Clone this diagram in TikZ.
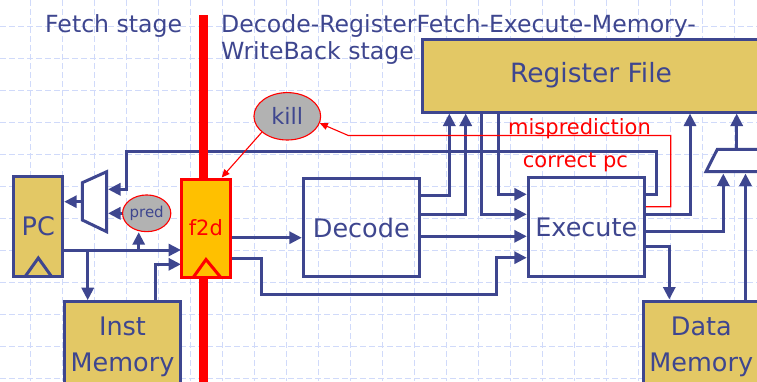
\documentclass[tikz,border=0pt]{standalone}
\usepackage{fontspec}
\setmainfont{DejaVu Sans}
\usetikzlibrary{arrows.meta,shapes.geometric,calc}
\definecolor{navy}{RGB}{62,70,143}
\definecolor{gold}{RGB}{227,200,101}
\definecolor{amber}{RGB}{255,192,0}
\definecolor{gridc}{RGB}{208,218,250}
\definecolor{grayfill}{RGB}{178,178,178}
\newcommand\fsBox{\fontsize{25.5}{30}\selectfont}
\newcommand\fsRF{\fontsize{26.5}{31}\selectfont}
\newcommand\fsTtl{\fontsize{23.6}{28}\selectfont}
\newcommand\fsRed{\fontsize{21}{25}\selectfont}
\newcommand\fsKill{\fontsize{22.5}{26}\selectfont}
\newcommand\fsPred{\fontsize{15}{18}\selectfont}
\begin{document}
\begin{tikzpicture}[x=1pt,y=-1pt,
  gridline/.style={gridc, line width=1pt, dash pattern=on 6pt off 3pt},
  box/.style={draw=navy, line width=3pt, rectangle, inner sep=0pt, text=navy, font=\fsBox},
  lbl/.style={text=navy, font=\fsBox, inner sep=0pt},
  ttl/.style={text=navy, font=\fsTtl, inner sep=0pt},
  rlbl/.style={text=red, font=\fsRed, inner sep=0pt},
  wire/.style={navy, line width=3pt},
  arr/.style={wire, -{Triangle[length=12.5pt,width=12pt]}},
  redarr/.style={red, line width=1.1pt, -{Triangle[length=8pt,width=7pt]}},
  bubble/.style={ellipse, draw=red, line width=1.1pt, fill=grayfill, text=navy, inner sep=0pt}
]
\useasboundingbox (0,0) rectangle (757,381);
\clip (0,0) rectangle (757,381);
\fill[white] (0,0) rectangle (757,381);
% background grid
\foreach \gx in {0,...,22} \draw[gridline] ({30+32*\gx},0) -- ({30+32*\gx},381);
\foreach \gy in {0,...,11} \draw[gridline] (0,{26.7+32*\gy}) -- (757,{26.7+32*\gy});

% titles
\node[ttl, anchor=base west] (t1) at (45,32.3) {Fetch stage};
\node[ttl, anchor=base west] (t2) at (221,32.3) {Decode-RegisterFetch-Execute-Memory-};
\node[ttl, anchor=base west] (t3) at (221,59) {WriteBack stage};

% boxes
\node[box, fill=gold, minimum width=338pt, minimum height=73pt, font=\fsRF] (rf) at (591,75.5) {Register File};
\node[box, fill=gold, minimum width=48.7pt, minimum height=100pt] (pc) at (38.3,226.7) {PC};
\node[box, fill=gold, minimum width=116.4pt, minimum height=119pt] (im) at (122.5,361.2) {};
\node[lbl, anchor=base] (imt1) at (122.5,335) {Inst};
\node[lbl, anchor=base] (imt2) at (122.5,371) {Memory};
\node[box, minimum width=116pt, minimum height=98.4pt] (dec) at (361.3,227.5) {Decode};
\node[box, minimum width=116pt, minimum height=99pt] (ex) at (586.3,227.2) {Execute};
\node[box, fill=gold, minimum width=116.7pt, minimum height=119pt] (dm) at (701.6,360.5) {};
\node[lbl, anchor=base] (dmt1) at (701.3,335) {Data};
\node[lbl, anchor=base] (dmt2) at (701.3,371) {Memory};

% muxes
\coordinate (mlA) at (82.3,182.7);
\coordinate (mlB) at (106.7,171.7);
\coordinate (mlC) at (106.7,231.7);
\coordinate (mlD) at (82.3,220);
\coordinate (mlo) at (82.3,201.7);
\coordinate (mRight) at (108,0);
\draw[wire, fill=white] (mlA) -- (mlB) -- (mlC) -- (mlD) -- cycle;
\coordinate (mrA) at (717.3,149.3);
\coordinate (mrB) at (766,149.3);
\coordinate (mrC) at (778,171.7);
\coordinate (mrD) at (706,171.7);
\draw[wire, fill=white] (mrA) -- (mrB) -- (mrC) -- (mrD) -- cycle;

% fetch-side wires
\coordinate (j1) at (87.7,250);
\coordinate (j2) at (138.7,250);
\coordinate (j3) at (155.7,264.3);
\draw[arr] (pc.east |- 0,250) -- (230,250 -| 181,0);
\draw[arr] (j1) -- (j1 |- im.north);
\draw[arr] (im.north -| j3) -- (j3) -- (181,0 |- j3);
\draw[arr] (mlo) -- (pc.east |- mlo);

% correct pc loop
\draw[arr] (ex.east |- 0,194.3) -| (656,151.7) -| (126,189.3) -- (mRight |- 0,189.3);

% decode stage wires
\draw[arr] (231,237.7) -- (dec.west |- 0,237.7);
\draw[arr] (231,258.3) -| (261.7,294.3) -| (496,257.7) -- (ex.west |- 0,257.7);
\draw[arr] (dec.east |- 0,195) -| (rf.south -| 449.3,0);
\draw[arr] (dec.east |- 0,214.3) -| (rf.south -| 465.7,0);
\draw[arr] (dec.east |- 0,236.3) -- (ex.west |- 0,236.3);
\draw[arr] (rf.south -| 481.7,0) |- (ex.west |- 0,214.3);
\draw[arr] (rf.south -| 498.3,0) |- (ex.west |- 0,194.3);

% execute outputs
\draw[arr] (ex.east |- 0,214.3) -| (rf.south -| 690,0);
\draw[arr] (ex.east |- 0,231.3) -| (723.3,173.5);
\draw[arr] (ex.east |- 0,246.7) -| (dm.north -| 669.3,0);
\draw[arr] (dm.north -| 745.5,0) -- (745.5,173.5);
\draw[arr] (736.7,148) -- (rf.south -| 736.7,0);

% pipeline boundary bar
\fill[red] (198.5,15) rectangle (207.5,385);

% f2d register
\node[box, draw=red, fill=amber, line width=3pt, text=red, font=\fontsize{21}{25}\selectfont, minimum width=48.3pt, minimum height=98.3pt] (f2d) at (205.85,228.15) {f2d};
\draw[red, line width=3pt, line join=miter] (193.3,277.3) -- (206,259.5) -- (220.7,277.3);
\draw[navy, line width=3pt, line join=miter] (25,276.7) -- (38.3,258) -- (51.7,276.7);

% bubbles
\node[bubble, minimum width=43.3pt, minimum height=36.7pt, font=\fsPred] (pred) at (146.7,213.3) {pred};
\node[bubble, minimum width=66.7pt, minimum height=47.4pt, font=\fsKill] (kill) at (287.3,116.3) {kill};
\draw[arr] (j2) -- (j2 |- pred.south);
\draw[arr] (pred.west) -- (mRight |- pred.west);

% red signals
\draw[redarr] (ex.east |- 0,206.7) -- (670.7,206.7) -- (670.7,135.5) -- (348.3,135.5) -- (kill.-12);
\draw[redarr] (kill.212) -- (f2d.north -| 221.7,0);
\node[rlbl, anchor=base west] (mp) at (508,134) {misprediction};
\node[rlbl, anchor=base west] (cpl) at (522.7,167.7) {correct pc};
\end{tikzpicture}
\end{document}
